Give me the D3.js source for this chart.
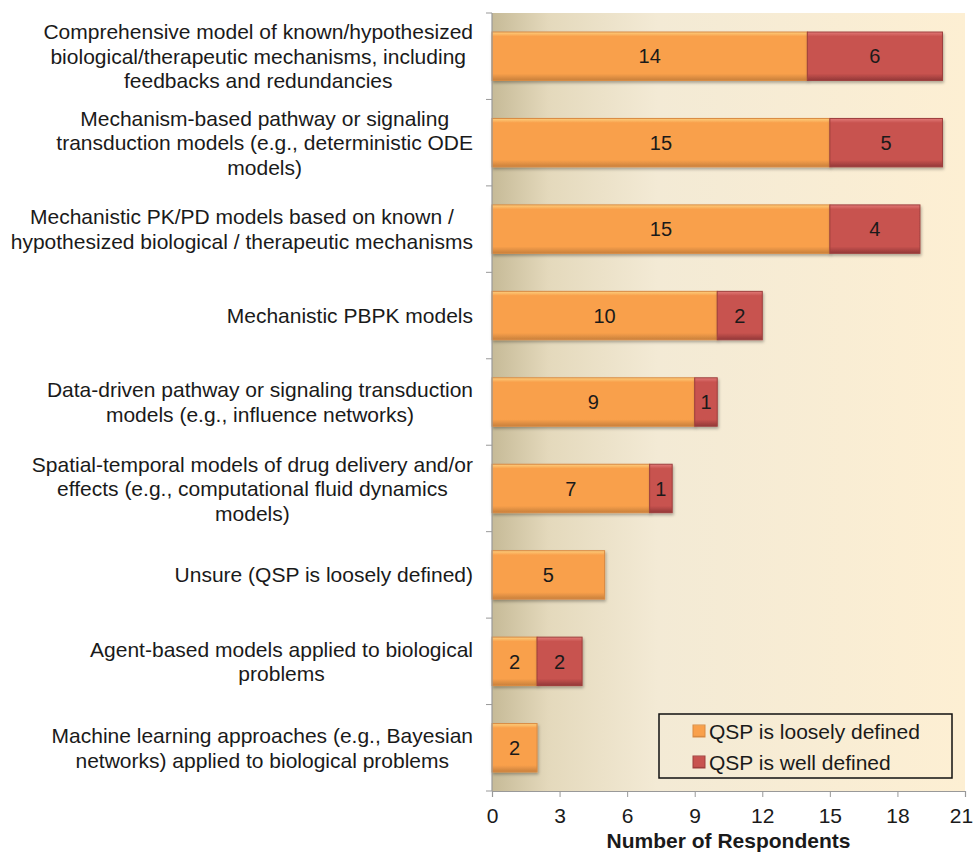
<!DOCTYPE html>
<html>
<head>
<script src="https://d3js.org/d3.v7.min.js"></script>
<style>
  body { margin: 0; background: white; }
  text { font-family: Arial, "Liberation Sans", sans-serif; fill: #1a1a1a; }
</style>
</head>
<body>
<div id="chart"></div>
<script>
  // data, top to bottom
  var categories = [
    ["Comprehensive model of known/hypothesized", "biological/therapeutic mechanisms, including", "feedbacks and redundancies"],
    ["Mechanism-based pathway or signaling", "transduction models (e.g., deterministic ODE", "models)"],
    ["Mechanistic PK/PD models based on known /", "hypothesized biological / therapeutic mechanisms"],
    ["Mechanistic PBPK models"],
    ["Data-driven pathway or signaling transduction", "models (e.g., influence networks)"],
    ["Spatial-temporal models of drug delivery and/or", "effects (e.g., computational fluid dynamics", "models)"],
    ["Unsure (QSP is loosely defined)"],
    ["Agent-based models applied to biological", "problems"],
    ["Machine learning approaches (e.g., Bayesian", "networks) applied to biological problems"]
  ];
  var loosely = [14, 15, 15, 10, 9, 7, 5, 2, 2];
  var well = [6, 5, 4, 2, 1, 1, 0, 2, 0];
  var seriesNames = ["QSP is loosely defined", "QSP is well defined"];
  var xTicks = [0, 3, 6, 9, 12, 15, 18, 21];

  var W = 975, H = 854;
  var margin = { top: 13, right: 10, bottom: 63, left: 492 };
  var width = 965 - margin.left;
  var height = 791 - margin.top;

  var svg = d3.select("#chart").append("svg")
    .attr("width", W).attr("height", H);

  var defs = svg.append("defs");
  var bg = defs.append("linearGradient").attr("id", "bg").attr("x1", 0).attr("x2", 1).attr("y1", 0).attr("y2", 0);
  bg.append("stop").attr("offset", "0%").attr("stop-color", "#c6ba97");
  bg.append("stop").attr("offset", "12%").attr("stop-color", "#e4d9bc");
  bg.append("stop").attr("offset", "35%").attr("stop-color", "#f3ead5");
  bg.append("stop").attr("offset", "100%").attr("stop-color", "#fdefd3");

  function barGrad(id, light, mid, dark) {
    var g = defs.append("linearGradient").attr("id", id).attr("x1", 0).attr("x2", 0).attr("y1", 0).attr("y2", 1);
    g.append("stop").attr("offset", "0%").attr("stop-color", light);
    g.append("stop").attr("offset", "9%").attr("stop-color", mid);
    g.append("stop").attr("offset", "86%").attr("stop-color", mid);
    g.append("stop").attr("offset", "100%").attr("stop-color", dark);
  }
  barGrad("g0", "#fdcf7e", "#f9a04b", "#c8803c");
  barGrad("g1", "#e27a78", "#c8534f", "#933838");

  var shadow = defs.append("filter").attr("id", "sh").attr("x", "-10%").attr("y", "-20%").attr("width", "130%").attr("height", "150%");
  shadow.append("feDropShadow").attr("dx", 1).attr("dy", 2).attr("stdDeviation", 1.5).attr("flood-color", "#000").attr("flood-opacity", 0.3);

  var g = svg.append("g").attr("transform", "translate(" + margin.left + "," + margin.top + ")");

  var x = d3.scaleLinear().domain([0, 21]).range([0, width]);
  var y = d3.scaleBand().domain(d3.range(categories.length)).range([0, height]).paddingInner(0.44).paddingOuter(0.22);
  var colors = ["url(#g0)", "url(#g1)"];
  var strokes = ["#d98a42", "#9e3f3d"];

  g.append("rect").attr("x", 0).attr("y", 0).attr("width", width).attr("height", height).attr("fill", "url(#bg)");

  var rows = categories.map(function (c, i) { return { i: i, a: loosely[i], b: well[i] }; });
  var segs = [];
  rows.forEach(function (r) {
    segs.push({ i: r.i, s: 0, x0: 0, v: r.a });
    if (r.b > 0) segs.push({ i: r.i, s: 1, x0: r.a, v: r.b });
  });

  g.selectAll("rect.bar").data(segs).enter().append("rect")
    .attr("class", "bar")
    .attr("x", function (d) { return x(d.x0); })
    .attr("y", function (d) { return y(d.i); })
    .attr("width", function (d) { return x(d.x0 + d.v) - x(d.x0); })
    .attr("height", y.bandwidth())
    .attr("fill", function (d) { return colors[d.s]; })
    .attr("stroke", function (d) { return strokes[d.s]; })
    .attr("stroke-width", 1)
    .attr("filter", "url(#sh)");

  g.selectAll("text.val").data(segs).enter().append("text")
    .attr("class", "val")
    .attr("x", function (d) { return x(d.x0 + d.v / 2); })
    .attr("y", function (d) { return y(d.i) + y.bandwidth() / 2; })
    .attr("dy", "0.36em")
    .attr("text-anchor", "middle")
    .style("font-size", "20px")
    .text(function (d) { return d.v; });

  // y axis line and ticks (between categories)
  var step = y.step();
  g.append("line").attr("x1", 0).attr("x2", 0).attr("y1", 0).attr("y2", height).attr("stroke", "#999").attr("stroke-width", 1.2);
  g.selectAll("line.yt").data(d3.range(categories.length + 1)).enter().append("line")
    .attr("class", "yt")
    .attr("x1", -6).attr("x2", 0)
    .attr("y1", function (d) { return d * step; })
    .attr("y2", function (d) { return d * step; })
    .attr("stroke", "#999");

  // category labels: block right-aligned, lines centered within block
  var lh = 24.5;
  categories.forEach(function (lines, i) {
    var cy = y(i) + y.bandwidth() / 2;
    var t = g.append("text").style("font-size", "21px").attr("text-anchor", "middle");
    var spans = lines.map(function (l, k) {
      return t.append("tspan").attr("y", cy + (k - (lines.length - 1) / 2) * lh).attr("dy", "0.36em").text(l);
    });
    var maxW = d3.max(spans, function (s) { return s.node().getComputedTextLength(); });
    var cx = -19 - maxW / 2;
    spans.forEach(function (s) { s.attr("x", cx); });
  });

  // x axis
  var xAxis = d3.axisBottom(x).tickValues(xTicks).tickSize(6).tickPadding(11);
  var xa = g.append("g").attr("transform", "translate(0," + height + ")").call(xAxis);
  xa.select(".domain").attr("stroke", "#999").attr("stroke-width", 1.2);
  xa.selectAll(".tick line").attr("stroke", "#999");
  xa.selectAll(".tick text").style("font-size", "21px").style("font-family", "Arial, 'Liberation Sans', sans-serif").attr("fill", "#1a1a1a");
  // keep the last label inside the page
  xa.selectAll(".tick text").filter(function (d) { return d === 21; }).attr("dx", -4);

  g.append("text")
    .attr("x", width / 2).attr("y", height + 57)
    .attr("text-anchor", "middle")
    .style("font-size", "21px").style("font-weight", "bold")
    .text("Number of Respondents");

  // legend
  var lg = svg.append("g").attr("transform", "translate(659,714)");
  lg.append("rect").attr("width", 293).attr("height", 64).attr("fill", "none").attr("stroke", "#111").attr("stroke-width", 1.5);
  seriesNames.forEach(function (n, k) {
    var ry = 17 + k * 31;
    lg.append("rect").attr("x", 34).attr("y", ry - 6).attr("width", 12).attr("height", 12)
      .attr("fill", colors[k]).attr("stroke", strokes[k]);
    lg.append("text").attr("x", 50).attr("y", ry).attr("dy", "0.36em")
      .style("font-size", "21px").text(n);
  });
</script>
</body>
</html>
